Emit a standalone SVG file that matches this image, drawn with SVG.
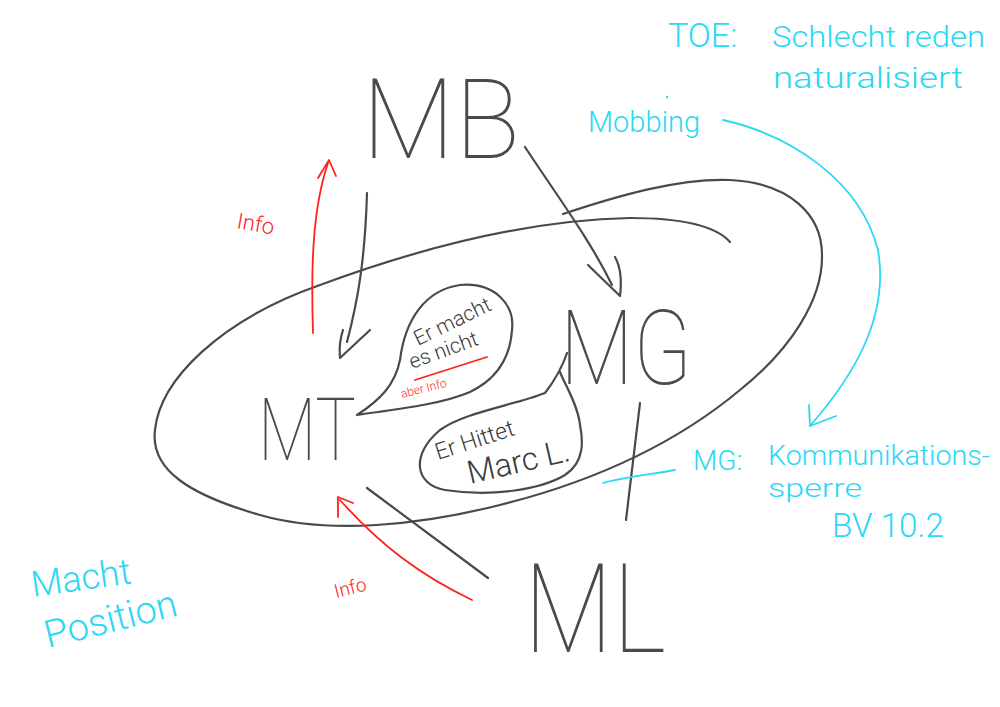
<svg xmlns="http://www.w3.org/2000/svg" width="1000" height="707" viewBox="0 0 1000 707">
<style>
.k{fill:none;stroke:#4a4a4a;stroke-width:2.2;stroke-linecap:round;stroke-linejoin:round}
.r{fill:none;stroke:#ff2020;stroke-width:1.8;stroke-linecap:round;stroke-linejoin:round}
.c{fill:none;stroke:#2ad8f5;stroke-width:1.8;stroke-linecap:round;stroke-linejoin:round}
text{font-family:Roboto,Lato,Inter,"Open Sans","Liberation Sans",sans-serif;font-weight:100}
.tk{fill:#4a4a4a}
.tr{fill:#ff2020;font-weight:300}
.tc{fill:#2ad8f5;font-weight:300}
.ts{fill:#3a3a3a;font-weight:300}
</style>
<rect width="1000" height="707" fill="#ffffff"/>
<g id="ellipse">
<path class="k" d="M563,214 C620,195 680,178 730,180 C790,183 822,215 822,255 C823,300 790,350 740,390 C680,440 600,480 500,505 C420,525 330,535 260,515 C190,495 150,470 155,430 C160,380 220,320 320,285 C420,248 530,220 630,218 C680,218 715,225 730,242"/>
</g>
<g id="connectors">
<path class="k" d="M367,193 C365,260 358,300 347,342"/>
<path class="k" d="M343,330 C338,345 340,355 340,358 L370,330"/>
<path class="k" d="M525,147 C560,200 590,240 612,285"/>
<path class="k" d="M588,265 L620,296 C622,280 620,266 615,257"/>
<path class="k" d="M367,488 L488,578"/>
<path class="k" d="M640,403 L626,520"/>
<path class="r" d="M313,333 C311,270 312,210 328,163"/>
<path class="r" d="M318,178 L329,160 L336,176"/>
<path class="r" d="M472,600 C420,575 380,545 340,500"/>
<path class="r" d="M338,517 L338,497 L353,503"/>
<path class="c" d="M723,120 C790,135 860,180 878,250 C890,320 850,380 810,426"/>
<path class="c" d="M809,405 L810,426 L836,416"/>
<path class="c" d="M603,483 C630,476 655,474 675,470"/>
<circle cx="667" cy="97" r="1.2" fill="#2ad8f5"/>
</g>
<g id="MB">
<text class="tk" x="362" y="158" font-size="112" textLength="158" lengthAdjust="spacingAndGlyphs">MB</text>
</g>
<g id="MT">
<text class="tk" x="258" y="460" font-size="88" textLength="98" lengthAdjust="spacingAndGlyphs">MT</text>
</g>
<g id="MG">
<text class="tk" x="560" y="384" font-size="104" textLength="132" lengthAdjust="spacingAndGlyphs">MG</text>
</g>
<g id="ML">
<text class="tk" x="524" y="652" font-size="125" textLength="142" lengthAdjust="spacingAndGlyphs">ML</text>
</g>
<g id="bubble1">
<path class="k" d="M357,415 C380,400 395,385 400,360 C405,320 425,290 460,285 C495,282 515,305 512,330 C510,360 495,380 470,392 C440,405 390,410 357,415"/>
<path class="r" d="M415,380 L487,357"/>
<text class="ts" font-size="21" transform="translate(418,346) rotate(-26)">Er macht</text>
<text class="ts" font-size="21" transform="translate(412,369) rotate(-20)">es nicht</text>
<text class="tr" font-size="12" transform="translate(402,398) rotate(-14)">aber Info</text>
</g>
<g id="bubble2">
<path class="k" d="M567,353 C562,368 555,380 545,393 C515,405 465,412 440,430 C410,455 415,485 445,490 C490,497 540,490 565,475 C585,462 583,440 580,425 C578,405 565,385 560,372"/>
<text class="ts" font-size="23" transform="translate(438,460) rotate(-18)">Er Hittet</text>
<text class="ts" font-size="32" transform="translate(470,484) rotate(-13)">Marc L.</text>
</g>
<g id="info1">
<text class="tr" font-size="22" transform="translate(236,228) rotate(10)">Info</text>
</g>
<g id="info2">
<text class="tr" font-size="19" transform="translate(336,598) rotate(-14)">Info</text>
</g>
<g id="toe">
<text class="tc" x="668" y="47" font-size="34">TOE:</text>
<text class="tc" x="772" y="47" font-size="30" textLength="213" lengthAdjust="spacingAndGlyphs">Schlecht reden</text>
<text class="tc" x="773" y="88" font-size="30" textLength="190" lengthAdjust="spacingAndGlyphs">naturalisiert</text>
</g>
<g id="mobbing">
<text class="tc" x="588" y="132" font-size="30" textLength="112" lengthAdjust="spacingAndGlyphs">Mobbing</text>
</g>
<g id="mg-note">
<text class="tc" x="693" y="470" font-size="28">MG:</text>
<text class="tc" x="768" y="465" font-size="27" textLength="222" lengthAdjust="spacingAndGlyphs">Kommunikations-</text>
<text class="tc" x="768" y="497" font-size="26" textLength="94" lengthAdjust="spacingAndGlyphs">sperre</text>
<text class="tc" x="832" y="537" font-size="34" textLength="112" lengthAdjust="spacingAndGlyphs">BV 10.2</text>
</g>
<g id="macht">
<text class="tc" font-size="36" transform="translate(33,597) rotate(-8)">Macht</text>
<text class="tc" font-size="38" transform="translate(48,648) rotate(-14)">Position</text>
</g>
</svg>
